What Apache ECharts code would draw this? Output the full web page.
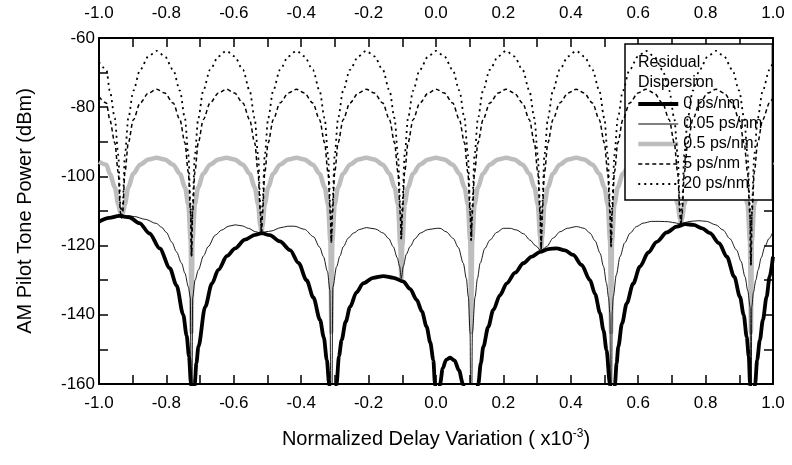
<!DOCTYPE html>
<html lang="en">
<head>
    <meta charset="utf-8">
    <title>AM Pilot Tone Power</title>
    <script src="https://cdn.jsdelivr.net/npm/echarts@6/dist/echarts.min.js"></script>
    <style>
        html, body { margin: 0; padding: 0; background: #fff; }
        #chart { width: 792px; height: 465px; }
    </style>
</head>
<body>
<div id="chart"></div>
<script>
    // x positions shared by the 0.5, 5 and 20 ps/nm curves (x10^-3)
    var dispX = [
        -1.0, -0.978, -0.968, -0.953, -0.943, -0.936, -0.933,
        -0.930, -0.923, -0.913, -0.898, -0.878, -0.853, -0.829, -0.805, -0.780, -0.760, -0.745, -0.735, -0.728, -0.7255,
        -0.7225, -0.7155, -0.7055, -0.6905, -0.6705, -0.6455, -0.622, -0.598, -0.573, -0.553, -0.538, -0.528, -0.521, -0.518,
        -0.515, -0.508, -0.498, -0.483, -0.463, -0.438, -0.414, -0.3905, -0.3655, -0.3455, -0.3305, -0.3205, -0.3135, -0.3105,
        -0.3075, -0.3005, -0.2905, -0.2755, -0.2555, -0.2305, -0.207, -0.183, -0.158, -0.138, -0.123, -0.113, -0.106, -0.103,
        -0.100, -0.093, -0.083, -0.068, -0.048, -0.023, 0.0, 0.0245, 0.0495, 0.0695, 0.0845, 0.0945, 0.1015, 0.1045,
        0.1075, 0.1145, 0.1245, 0.1395, 0.1595, 0.1845, 0.208, 0.232, 0.257, 0.277, 0.292, 0.302, 0.309, 0.312,
        0.315, 0.322, 0.332, 0.347, 0.367, 0.392, 0.416, 0.4395, 0.4645, 0.4845, 0.4995, 0.5095, 0.5165, 0.5195,
        0.5225, 0.5295, 0.5395, 0.5545, 0.5745, 0.5995, 0.623, 0.647, 0.672, 0.692, 0.707, 0.717, 0.724, 0.727,
        0.730, 0.737, 0.747, 0.762, 0.782, 0.807, 0.831, 0.8545, 0.8795, 0.8995, 0.9145, 0.9245, 0.9315, 0.9345,
        0.9375, 0.9445, 0.9545, 0.9695, 0.9895, 1.0
    ];

    // 0.5 ps/nm (dBm)
    var disp05 = [
        -95.8, -96.6, -99.2, -103.1, -108.1, -110.8, -111.5,
        -110.8, -108.1, -103.1, -99.2, -96.6, -95.1, -94.6, -95.1, -96.6, -99.2, -103.1, -108.1, -118.6, -145,
        -118.6, -108.1, -103.1, -99.2, -96.6, -95.1, -94.6, -95.1, -96.6, -99.2, -103.1, -108.1, -114.5, -116.5,
        -114.5, -108.1, -103.1, -99.2, -96.6, -95.1, -94.6, -95.1, -96.6, -99.2, -103.1, -108.1, -118.6, -145,
        -118.6, -108.1, -103.1, -99.2, -96.6, -95.1, -94.6, -95.1, -96.6, -99.2, -103.1, -108.1, -120, -130,
        -120, -108.1, -103.1, -99.2, -96.6, -95.1, -94.6, -95.1, -96.6, -99.2, -103.1, -108.1, -118.6, -145,
        -118.6, -108.1, -103.1, -99.2, -96.6, -95.1, -94.6, -95.1, -96.6, -99.2, -103.1, -108.1, -117.5, -121.5,
        -117.5, -108.1, -103.1, -99.2, -96.6, -95.1, -94.6, -95.1, -96.6, -99.2, -103.1, -108.1, -118.6, -145,
        -118.6, -108.1, -103.1, -99.2, -96.6, -95.1, -94.6, -95.1, -96.6, -99.2, -103.1, -108.1, -112.2, -113.8,
        -112.2, -108.1, -103.1, -99.2, -96.6, -95.1, -94.6, -95.1, -96.6, -99.2, -103.1, -108.1, -118.6, -145,
        -118.6, -108.1, -103.1, -99.2, -96.6, -95.9
    ];

    // 5 ps/nm
    var disp5 = [
        -77.0, -78.8, -83.6, -90.3, -98.8, -110.8, -112,
        -110.8, -98.8, -90.3, -83.6, -78.8, -75.9, -74.8, -75.9, -78.8, -83.6, -90.3, -98.8, -110.8, -123,
        -110.8, -98.8, -90.3, -83.6, -78.8, -75.9, -74.8, -75.9, -78.8, -83.6, -90.3, -98.8, -110.8, -116.5,
        -110.8, -98.8, -90.3, -83.6, -78.8, -75.9, -74.8, -75.9, -78.8, -83.6, -90.3, -98.8, -110.8, -119,
        -110.8, -98.8, -90.3, -83.6, -78.8, -75.9, -74.8, -75.9, -78.8, -83.6, -90.3, -98.8, -110.8, -118,
        -110.8, -98.8, -90.3, -83.6, -78.8, -75.9, -74.8, -75.9, -78.8, -83.6, -90.3, -98.8, -110.8, -118.5,
        -110.8, -98.8, -90.3, -83.6, -78.8, -75.9, -74.8, -75.9, -78.8, -83.6, -90.3, -98.8, -110.8, -121,
        -110.8, -98.8, -90.3, -83.6, -78.8, -75.9, -74.8, -75.9, -78.8, -83.6, -90.3, -98.8, -110.8, -120.3,
        -110.8, -98.8, -90.3, -83.6, -78.8, -75.9, -74.8, -75.9, -78.8, -83.6, -90.3, -98.8, -110.8, -114,
        -110.8, -98.8, -90.3, -83.6, -78.8, -75.9, -74.8, -75.9, -78.8, -83.6, -90.3, -98.8, -110.8, -125.6,
        -110.8, -98.8, -90.3, -83.6, -78.8, -77.2
    ];

    // 20 ps/nm
    var disp20 = [
        -66.9, -69.2, -75.2, -83.2, -93.7, -108.7, -112,
        -108.7, -93.7, -83.2, -75.2, -69.2, -65.3, -63.7, -65.3, -69.2, -75.2, -83.2, -93.7, -108.7, -123,
        -108.7, -93.7, -83.2, -75.2, -69.2, -65.3, -63.7, -65.3, -69.2, -75.2, -83.2, -93.7, -108.7, -116.5,
        -108.7, -93.7, -83.2, -75.2, -69.2, -65.3, -63.7, -65.3, -69.2, -75.2, -83.2, -93.7, -108.7, -119,
        -108.7, -93.7, -83.2, -75.2, -69.2, -65.3, -63.7, -65.3, -69.2, -75.2, -83.2, -93.7, -108.7, -118,
        -108.7, -93.7, -83.2, -75.2, -69.2, -65.3, -63.7, -65.3, -69.2, -75.2, -83.2, -93.7, -108.7, -118.5,
        -108.7, -93.7, -83.2, -75.2, -69.2, -65.3, -63.7, -65.3, -69.2, -75.2, -83.2, -93.7, -108.7, -121,
        -108.7, -93.7, -83.2, -75.2, -69.2, -65.3, -63.7, -65.3, -69.2, -75.2, -83.2, -93.7, -108.7, -120.3,
        -108.7, -93.7, -83.2, -75.2, -69.2, -65.3, -63.7, -65.3, -69.2, -75.2, -83.2, -93.7, -108.7, -114,
        -108.7, -93.7, -83.2, -75.2, -69.2, -65.3, -63.7, -65.3, -69.2, -75.2, -83.2, -93.7, -108.7, -125.6,
        -108.7, -93.7, -83.2, -75.2, -69.2, -67.0
    ];

    // 0.05 ps/nm
    var thinX = [
        -1.0, -0.97, -0.95, -0.933, -0.915, -0.895, -0.863, -0.83, -0.814, -0.80, -0.784, -0.77, -0.755, -0.745, -0.735, -0.729, -0.7255,
        -0.722, -0.715, -0.705, -0.69, -0.676, -0.655, -0.636, -0.615, -0.596, -0.575, -0.557, -0.535, -0.518,
        -0.505, -0.49, -0.46, -0.44, -0.42, -0.39, -0.364, -0.345, -0.334, -0.322, -0.315, -0.3105,
        -0.306, -0.295, -0.285, -0.275, -0.26, -0.245, -0.226, -0.206, -0.18, -0.156, -0.14, -0.127, -0.115, -0.108, -0.103,
        -0.097, -0.088, -0.077, -0.062, -0.047, -0.025, 0.002, 0.012, 0.03, 0.051, 0.066, 0.081, 0.09, 0.096, 0.101, 0.1045,
        0.108, 0.116, 0.123, 0.131, 0.145, 0.16, 0.18, 0.2, 0.22, 0.239, 0.26, 0.279, 0.295, 0.312,
        0.328, 0.348, 0.368, 0.39, 0.417, 0.44, 0.457, 0.472, 0.487, 0.497, 0.506, 0.512, 0.516, 0.5195,
        0.523, 0.526, 0.535, 0.546, 0.56, 0.576, 0.595, 0.615, 0.64, 0.665, 0.69, 0.714, 0.727,
        0.74, 0.754, 0.78, 0.803, 0.83, 0.852, 0.872, 0.892, 0.905, 0.917, 0.925, 0.932, 0.9345,
        0.937, 0.942, 0.949, 0.956, 0.965, 0.976, 0.988, 1.0
    ];
    var thinY = [
        -112.6, -111.9, -111.5, -111.4, -111.4, -111.6, -112.4, -113.6, -114.7, -116.2, -119, -121.8, -125.1, -128, -131.9, -135, -190,
        -135, -130, -127, -123, -120.3, -117, -115.5, -114.4, -114, -114.3, -115, -116, -116.5,
        -116, -115.8, -114.8, -114.4, -114.4, -115.3, -117.4, -120.5, -123.2, -127.5, -132.8, -190,
        -132, -126.1, -123, -120.3, -117.8, -116.4, -115.3, -114.8, -115.2, -116.4, -118, -120.3, -123.5, -126, -129.5,
        -126, -122.5, -120.3, -118, -116.4, -115.4, -115, -115, -116, -117.9, -120.5, -125.1, -129.5, -134.8, -145, -190,
        -145, -134.8, -129.5, -125.1, -120.8, -118.4, -116.2, -115, -115, -115.5, -116.6, -118.4, -120, -121.5,
        -120.3, -117.8, -116, -115, -114.5, -115, -116.4, -118.6, -122.2, -126, -130.9, -135, -139.6, -190,
        -139, -134.8, -128.5, -123.2, -119.2, -116.4, -114.5, -113.5, -113, -113, -113.1, -113.5, -113.8,
        -113.3, -113, -112.8, -113, -114, -115.5, -118, -121.3, -124.5, -129, -133, -137.7, -190,
        -137.7, -133.5, -130, -127, -123.5, -120.3, -118, -116
    ];

    // 0 ps/nm
    var zeroX = [
        -1.0, -0.97, -0.94, -0.91, -0.88, -0.85, -0.82, -0.79, -0.77, -0.75, -0.74, -0.733, -0.727, -0.7225,
        -0.716, -0.711, -0.705, -0.685, -0.665, -0.646, -0.62, -0.596, -0.567, -0.537, -0.517, -0.493, -0.463, -0.433, -0.408, -0.384, -0.364, -0.344, -0.333, -0.324, -0.317, -0.306,
        -0.295, -0.288, -0.28, -0.268, -0.255, -0.236, -0.216, -0.186, -0.156, -0.126, -0.097, -0.077, -0.057, -0.042, -0.028, -0.017, -0.008, -0.003, 0.0045,
        0.012, 0.02, 0.03, 0.042, 0.055, 0.068, 0.08, 0.1,
        0.1255, 0.133, 0.1405, 0.155, 0.17, 0.19, 0.21, 0.235, 0.259, 0.284, 0.309, 0.333, 0.358, 0.383, 0.407, 0.432, 0.457, 0.472, 0.487, 0.497, 0.506, 0.516, 0.5235,
        0.531, 0.536, 0.541, 0.552, 0.566, 0.585, 0.605, 0.63, 0.655, 0.685, 0.714, 0.74, 0.764, 0.79, 0.813, 0.84, 0.863, 0.885, 0.902, 0.913, 0.922, 0.928, 0.932, 0.9395,
        0.947, 0.953, 0.961, 0.97, 0.981, 0.99, 1.0
    ];
    var zeroY = [
        -113.1, -112, -111.4, -111.8, -113.5, -116.5, -120.8, -126.5, -131.5, -140, -146, -152, -160, -190,
        -160, -154, -149.2, -137.7, -131, -127, -123, -120.8, -118.3, -116.9, -116.4, -117, -118.8, -121.3, -125, -130, -135, -141.5, -146.5, -153, -160, -190,
        -160, -152, -147.3, -142, -137.7, -133.5, -130.9, -129.3, -128.8, -129.3, -130.4, -132.5, -135.7, -139, -143.4, -148, -153, -160, -190,
        -160, -155.5, -153, -152.4, -153.2, -156, -160, -190,
        -160, -154, -149.2, -143.5, -138.6, -134.3, -130.9, -127.8, -125.1, -123.2, -121.8, -121, -120.8, -121.4, -122.7, -125.6, -130, -134, -139.6, -144.5, -150.2, -160, -190,
        -160, -154, -149.2, -142.5, -136.7, -131, -126.1, -122, -118.9, -116.2, -114.5, -113.8, -114, -115, -116.4, -119.3, -123.2, -129, -134.8, -140, -146.4, -152, -160, -190,
        -160, -153, -147.3, -141.5, -134.8, -129, -123.2
    ];

    var font = 'Liberation Sans, Arial, sans-serif';

    // name, colour, width, dash
    var styles = {
        '0 ps/nm': ['#000', 3.8, 'solid'],
        '0.05 ps/nm': ['#000', 0.9, 'solid'],
        '0.5 ps/nm': ['#bdbdbd', 4.5, 'solid'],
        '5 ps/nm': ['#000', 1.5, [4, 3]],
        '20 ps/nm': ['#000', 1.8, [2, 4]]
    };
    var legendNames = ['0 ps/nm', '0.05 ps/nm', '0.5 ps/nm', '5 ps/nm', '20 ps/nm'];

    function pairs(xs, ys) {
        return xs.map(function (x, i) { return [x, ys[i]]; });
    }

    function xAx(pos) {
        return {
            type: 'value', position: pos, min: -1, max: 1, interval: 0.2,
            axisLine: { onZero: false, lineStyle: { color: '#000', width: 2 } },
            axisTick: { inside: true, length: 9, lineStyle: { color: '#000', width: 1.5 } },
            minorTick: { show: true, splitNumber: 2, length: 9, lineStyle: { color: '#000', width: 1.5 } },
            splitLine: { show: false },
            axisLabel: {
                color: '#000', fontSize: 17, fontFamily: font,
                margin: pos === 'top' ? 16 : 11,
                formatter: function (v) { return v.toFixed(1); }
            }
        };
    }
    function yAx(pos) {
        return {
            type: 'value', position: pos, min: -160, max: -60, interval: 20,
            axisLine: { onZero: false, lineStyle: { color: '#000', width: 2 } },
            axisTick: { inside: true, length: 9, lineStyle: { color: '#000', width: 1.5 } },
            minorTick: { show: true, splitNumber: 2, length: 9, lineStyle: { color: '#000', width: 1.5 } },
            splitLine: { show: false },
            axisLabel: { show: pos === 'left', color: '#000', fontSize: 17, fontFamily: font, margin: 4 }
        };
    }

    var xBottom = xAx('bottom');
    xBottom.name = 'Normalized Delay Variation ( x10{sup|-3})';
    xBottom.nameLocation = 'middle';
    xBottom.nameGap = 44;
    xBottom.nameTextStyle = {
        color: '#000', fontSize: 20, fontFamily: font,
        rich: { sup: { fontSize: 12, color: '#000', fontFamily: font, verticalAlign: 'top', padding: [0, 0, 10, 0] } }
    };
    var yLeft = yAx('left');
    yLeft.name = 'AM Pilot Tone Power (dBm)';
    yLeft.nameLocation = 'middle';
    yLeft.nameGap = 64;
    yLeft.nameTextStyle = { color: '#000', fontSize: 20, fontFamily: font };

    function lineSeries(name, data, z) {
        var s = styles[name];
        return {
            name: name, type: 'line', data: data, symbol: 'none', z: z,
            smooth: 0.3, smoothMonotone: 'x', clip: true,
            lineStyle: { color: s[0], width: s[1], type: s[2] },
            itemStyle: { color: s[0] }
        };
    }

    var chart = echarts.init(document.getElementById('chart'));
    chart.setOption({
        animation: false,
        backgroundColor: '#fff',
        textStyle: { fontFamily: font },
        grid: { left: 99, right: 19, top: 38, bottom: 81, outerBoundsMode: 'none' },
        title: {
            text: 'Residual\nDispersion', left: 638, top: 53, padding: 0, z: 10,
            textStyle: { color: '#000', fontSize: 16, fontWeight: 'normal', lineHeight: 20, fontFamily: font }
        },
        legend: {
            data: legendNames.map(function (n) {
                var s = styles[n];
                return { name: n, lineStyle: { color: s[0], width: s[1] < 1.5 ? 1 : s[1], type: s[2] } };
            }),
            orient: 'vertical', left: 625, top: 44,
            padding: [52, 10, 8, 11], itemWidth: 40, itemHeight: 16, itemGap: 4,
            borderColor: '#000', borderWidth: 1.5, backgroundColor: '#fff', borderRadius: 0,
            itemStyle: { opacity: 0 },
            textStyle: { color: '#000', fontSize: 16, fontFamily: font, lineHeight: 16 }
        },
        xAxis: [xBottom, xAx('top')],
        yAxis: [yLeft, yAx('right')],
        series: [
            lineSeries('0.5 ps/nm', pairs(dispX, disp05), 2),
            lineSeries('0.05 ps/nm', pairs(thinX, thinY), 3),
            lineSeries('0 ps/nm', pairs(zeroX, zeroY), 4),
            lineSeries('5 ps/nm', pairs(dispX, disp5), 5),
            lineSeries('20 ps/nm', pairs(dispX, disp20), 5)
        ]
    });
</script>
</body>
</html>
